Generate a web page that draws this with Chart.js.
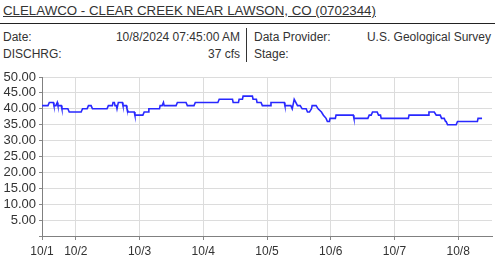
<!DOCTYPE html>
<html>
<head>
<meta charset="utf-8">
<script src="https://cdn.jsdelivr.net/npm/chart.js@4"></script>
<style>
  html, body { margin: 0; padding: 0; background: #fff; }
  body { width: 502px; height: 270px; position: relative; overflow: hidden;
         font-family: "Liberation Sans", Arial, sans-serif; color: #333; }
  #title { position: absolute; left: 3px; top: 3px; font-size: 13.3px; text-decoration: underline; white-space: nowrap; }
  #rule { position: absolute; left: 0; top: 23px; width: 495px; height: 1px; background: #222; }
  .cell { position: absolute; font-size: 12px; white-space: nowrap; line-height: 14px; }
  #divider { position: absolute; left: 246px; top: 28px; width: 1px; height: 34px; background: #333; }
  #wrap { position: absolute; left: 0; top: 66px; width: 502px; height: 204px; }
</style>
</head>
<body>
<div id="title">CLELAWCO - CLEAR CREEK NEAR LAWSON, CO (0702344)</div>
<div id="rule"></div>
<div class="cell" style="left:3px; top:30px;">Date:</div>
<div class="cell" style="right:262px; top:30px;">10/8/2024 07:45:00 AM</div>
<div class="cell" style="left:3px; top:47px;">DISCHRG:</div>
<div class="cell" style="right:262px; top:47px;">37 cfs</div>
<div id="divider"></div>
<div class="cell" style="left:254px; top:30px;">Data Provider:</div>
<div class="cell" style="right:11px; top:30px;">U.S. Geological Survey</div>
<div class="cell" style="left:254px; top:47px;">Stage:</div>
<div id="wrap"><canvas id="c" width="502" height="204"></canvas></div>
<script>
// Hours since 10/1 00:00
const hours = [11.25,13.5,14,15.5,15.75,16.5,17,17.25,18.5,18.75,21,21.5,26,26.5,28.25,28.75,29.75,30.25,35.75,36.25,
  37.75,38,38.5,38.75,39.25,39.5,40,41.5,41.75,43,43.25,43.75,46,46.25,49.25,49.75,51.25,51.5,55.5,55.75,
  56.5,57,57.25,61.75,62.25,65.5,66,68.5,69,77.5,78,83,83.25,85.25,85.5,86.75,87,90.5,90.75,92,
  92.25,93.75,94.25,97.25,97.5,102.5,102.75,105,105.5,106.25,107.5,108.5,109.25,110.75,111.25,112,112.75,113,114.5,115.25,
  116.5,117.25,118.25,118.75,119.5,119.75,121.75,122,128.5,128.75,134,134.5,135.25,135.75,137.5,138,138.75,139,149.25,149.5,
  156.75,157,159,159.75,161.25,161.75,162.75,163.25,163.5,164,167.25,167.75,175.25,175.5,177];
// Discharge, cfs
const flow = [41,41,42,42,41,41,42,41,41,40,40,39,39,40,40,41,41,40,40,41,
  41,42,42,41,41,40,42,42,41,41,40,39,39,38,38,39,39,40,40,41,
  41,42,41,41,42,42,41,41,42,42,43,43,42,42,43,43,44,44,43,43,
  42,42,41,41,42,42,41,41,40,43,41,41,40,40,39,39,40,41,41,40,
  39,38,37,36,36,37,37,38,38,37,37,38,38,39,39,38,38,37,37,38,
  38,39,39,38,38,37,37,36,36,35,35,36,36,37,37];
const tickHours = [11.25,24,48,72,96,120,144,168];
const tickLabels = ["10/1","10/2","10/3","10/4","10/5","10/6","10/7","10/8"];
const yTicks = [0,5,10,15,20,25,30,35,40,45,50];
const xMin = 11.25, xMax = 180.75;

new Chart(document.getElementById('c'), {
  type: 'line',
  data: {
    datasets: [{
      data: hours.map((h, i) => ({ x: h, y: flow[i] })),
      borderColor: 'rgb(40,40,255)',
      borderWidth: 1.6,
      pointRadius: 0,
      tension: 0,
      fill: false
    }]
  },
  options: {
    responsive: false,
    animation: false,
    events: [],
    layout: { padding: { top: 11, right: 10, left: 0, bottom: 0 } },
    plugins: { legend: { display: false }, tooltip: { enabled: false } },
    scales: {
      x: {
        type: 'linear',
        min: xMin, max: xMax,
        afterBuildTicks: s => { s.ticks = tickHours.map(v => ({ value: v })); },
        afterFit: s => { s.height = 34; },
        ticks: {
          autoSkip: false, maxRotation: 0, padding: 4,
          color: '#333',
          font: { family: 'Liberation Sans', size: 12 },
          callback: v => tickLabels[tickHours.indexOf(v)]
        },
        grid: { color: '#dcdcdc', tickLength: 4, tickColor: '#888' },
        border: { color: '#808080' }
      },
      y: {
        min: 0, max: 50,
        afterBuildTicks: s => { s.ticks = yTicks.map(v => ({ value: v })); },
        afterFit: s => { s.width = 42; },
        ticks: {
          autoSkip: false, padding: 3,
          color: '#333',
          font: { family: 'Liberation Sans', size: 13 },
          callback: v => v === 0 ? '' : Number(v).toFixed(2)
        },
        grid: { color: '#dcdcdc', tickLength: 3, tickColor: '#888' },
        border: { color: '#808080' }
      }
    }
  }
});
</script>
</body>
</html>
